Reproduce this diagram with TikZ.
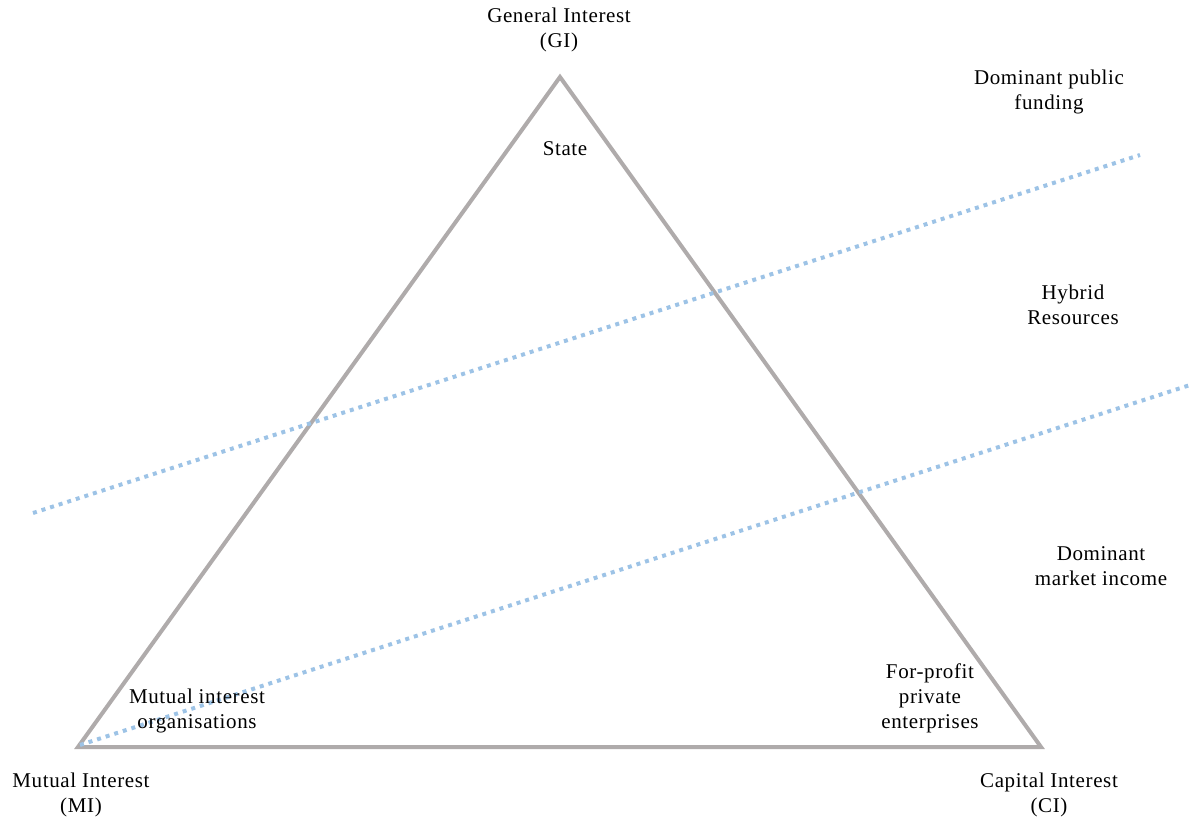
\documentclass[tikz,border=0pt]{standalone}
\usepackage{fontspec}
\setmainfont{Liberation Serif}[LetterSpace=3]
\usepackage{xcolor}
\usetikzlibrary{positioning, calc}
\definecolor{triGrey}{HTML}{AFABAB}
\definecolor{resBlue}{HTML}{9DC3E6}

\begin{document}
\begin{tikzpicture}[x=1pt,y=-1pt,
  every node/.style={font=\fontsize{21}{25}\selectfont, align=center},
  side/.style={draw=triGrey, line width=4pt, line join=miter},
  divide/.style={draw=resBlue, line width=4pt, dash pattern=on 4pt off 5pt}]
  \useasboundingbox (0,0) rectangle (1199,820);
  % corners of the triangle
  \coordinate (GI) at (560,77);
  \coordinate (MI) at (78,747);
  \coordinate (CI) at (1041,747);
  \draw[side] (MI) -- (GI) -- (CI) -- cycle;
  % resource boundaries
  \coordinate (a1) at (33,513);
  \coordinate (a2) at (1140,155);
  \coordinate (b1) at (80,745);
  \coordinate (b2) at (1190,385);
  \path[divide] (a1) -- (a2);
  \path[divide] (b1) -- (b2);
  % labels
  \node (gi) at (559,30) {General Interest\\(GI)};
  \node (mi) at (81,795) {Mutual Interest\\(MI)};
  \node (ci) at (1049,795) {Capital Interest\\(CI)};
  \node (state) at (565,149) {State};
  \node (mio) at (197,711) {Mutual interest\\organisations};
  \node (fpe) at (930,698) {For-profit\\private\\enterprises};
  \node (pub) at (1049,92) {Dominant public\\funding};
  \node (hyb) at (1073,305) {Hybrid\\Resources};
  \node (mkt) at (1101,566) {Dominant\\market income};
\end{tikzpicture}
\end{document}
